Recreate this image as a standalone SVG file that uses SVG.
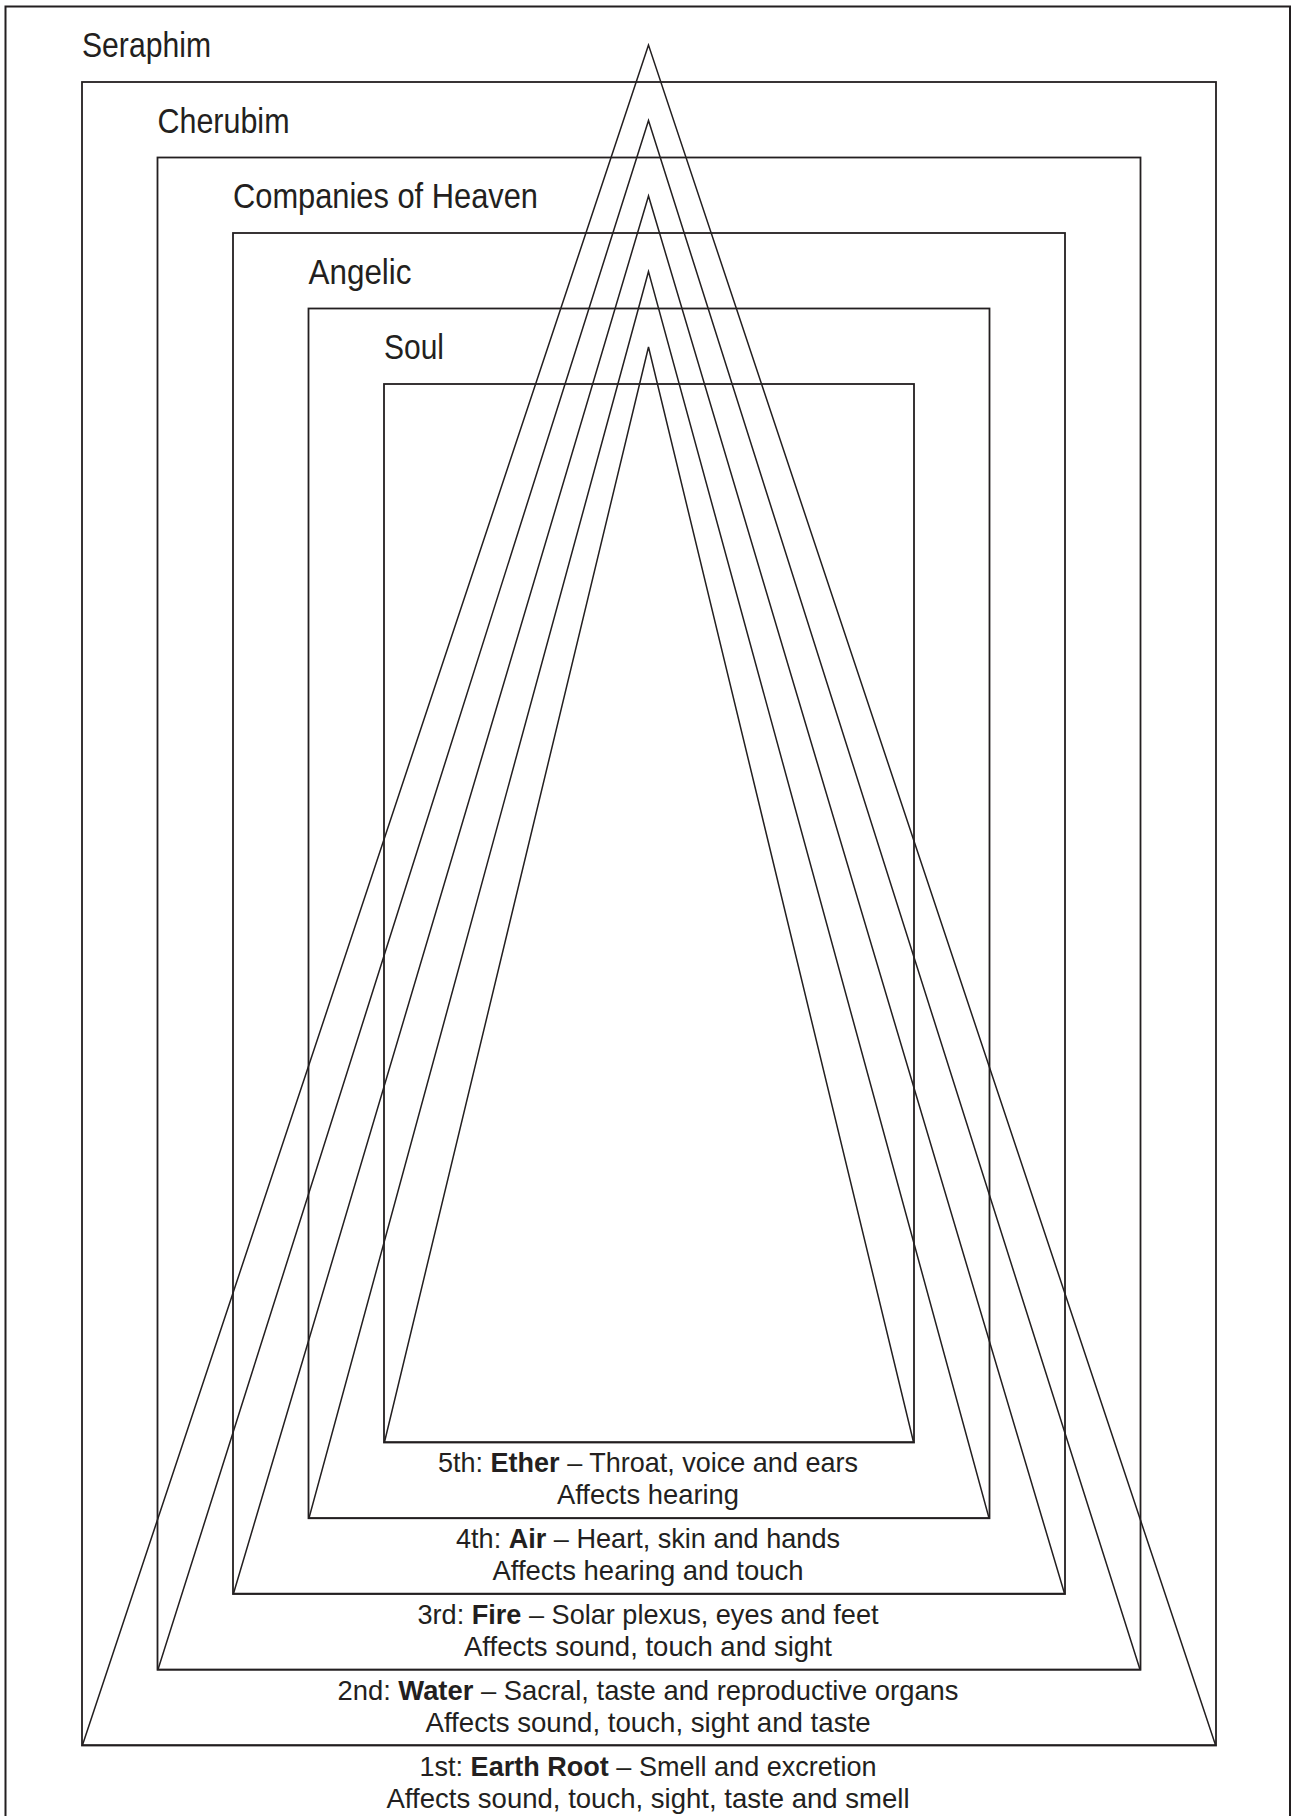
<svg xmlns="http://www.w3.org/2000/svg" width="1292" height="1816" viewBox="0 0 1292 1816">
<style>
.bg{fill:#ffffff}
.frame{fill:none;stroke:#231f20;stroke-width:2}
.rect{fill:none;stroke:#231f20;stroke-width:1.8}
.tri{fill:none;stroke:#231f20;stroke-width:1.5;stroke-linejoin:miter}
.head{font-family:"Liberation Sans",Arial,sans-serif;font-size:35px;fill:#231f20}
.lab{font-family:"Liberation Sans",Arial,sans-serif;font-size:28px;fill:#231f20;text-anchor:middle}
.b{font-weight:bold}
</style>
<rect class="bg" x="0" y="0" width="1292" height="1816"/>
<path class="frame" d="M5.5,1830 V6.5 H1290 V1830"/>

<g id="seraphim">
  <rect class="rect" x="82" y="82" width="1134" height="1663.5"/>
  <text class="head" x="82" y="57" textLength="129" lengthAdjust="spacingAndGlyphs">Seraphim</text>
</g>
<g id="cherubim">
  <rect class="rect" x="157.5" y="157.5" width="983" height="1512.25"/>
  <text class="head" x="157.5" y="132.5" textLength="132" lengthAdjust="spacingAndGlyphs">Cherubim</text>
</g>
<g id="companies">
  <rect class="rect" x="233" y="233" width="832" height="1361"/>
  <text class="head" x="233" y="208" textLength="305" lengthAdjust="spacingAndGlyphs">Companies of Heaven</text>
</g>
<g id="angelic">
  <rect class="rect" x="308.5" y="308.5" width="681" height="1209.75"/>
  <text class="head" x="308.5" y="283.5" textLength="103" lengthAdjust="spacingAndGlyphs">Angelic</text>
</g>
<g id="soul">
  <rect class="rect" x="384" y="384" width="530" height="1058.5"/>
  <text class="head" x="384" y="359" textLength="60" lengthAdjust="spacingAndGlyphs">Soul</text>
</g>

<g id="connectors">
  <polygon class="tri" points="648.5,45 82.5,1745 1215.5,1745"/>
  <polygon class="tri" points="648.5,120.5 158,1669.5 1140,1669.5"/>
  <polygon class="tri" points="648.5,196 233.5,1593.5 1064.5,1593.5"/>
  <polygon class="tri" points="648.5,271.5 309,1518 989,1518"/>
  <polygon class="tri" points="648.5,347 384.5,1442 913.5,1442"/>
</g>

<g id="ether-label">
  <text class="lab" x="648" y="1472" textLength="420" lengthAdjust="spacingAndGlyphs">5th: <tspan class="b">Ether</tspan> – Throat, voice and ears</text>
  <text class="lab" x="648" y="1504" textLength="182" lengthAdjust="spacingAndGlyphs">Affects hearing</text>
</g>
<g id="air-label">
  <text class="lab" x="648" y="1548" textLength="384" lengthAdjust="spacingAndGlyphs">4th: <tspan class="b">Air</tspan> – Heart, skin and hands</text>
  <text class="lab" x="648" y="1580" textLength="311" lengthAdjust="spacingAndGlyphs">Affects hearing and touch</text>
</g>
<g id="fire-label">
  <text class="lab" x="648" y="1624" textLength="461" lengthAdjust="spacingAndGlyphs">3rd: <tspan class="b">Fire</tspan> – Solar plexus, eyes and feet</text>
  <text class="lab" x="648" y="1656" textLength="368" lengthAdjust="spacingAndGlyphs">Affects sound, touch and sight</text>
</g>
<g id="water-label">
  <text class="lab" x="648" y="1700" textLength="621" lengthAdjust="spacingAndGlyphs">2nd: <tspan class="b">Water</tspan> – Sacral, taste and reproductive organs</text>
  <text class="lab" x="648" y="1732" textLength="445" lengthAdjust="spacingAndGlyphs">Affects sound, touch, sight and taste</text>
</g>
<g id="earth-label">
  <text class="lab" x="648" y="1776" textLength="457" lengthAdjust="spacingAndGlyphs">1st: <tspan class="b">Earth Root</tspan> – Smell and excretion</text>
  <text class="lab" x="648" y="1808" textLength="523" lengthAdjust="spacingAndGlyphs">Affects sound, touch, sight, taste and smell</text>
</g>
</svg>
